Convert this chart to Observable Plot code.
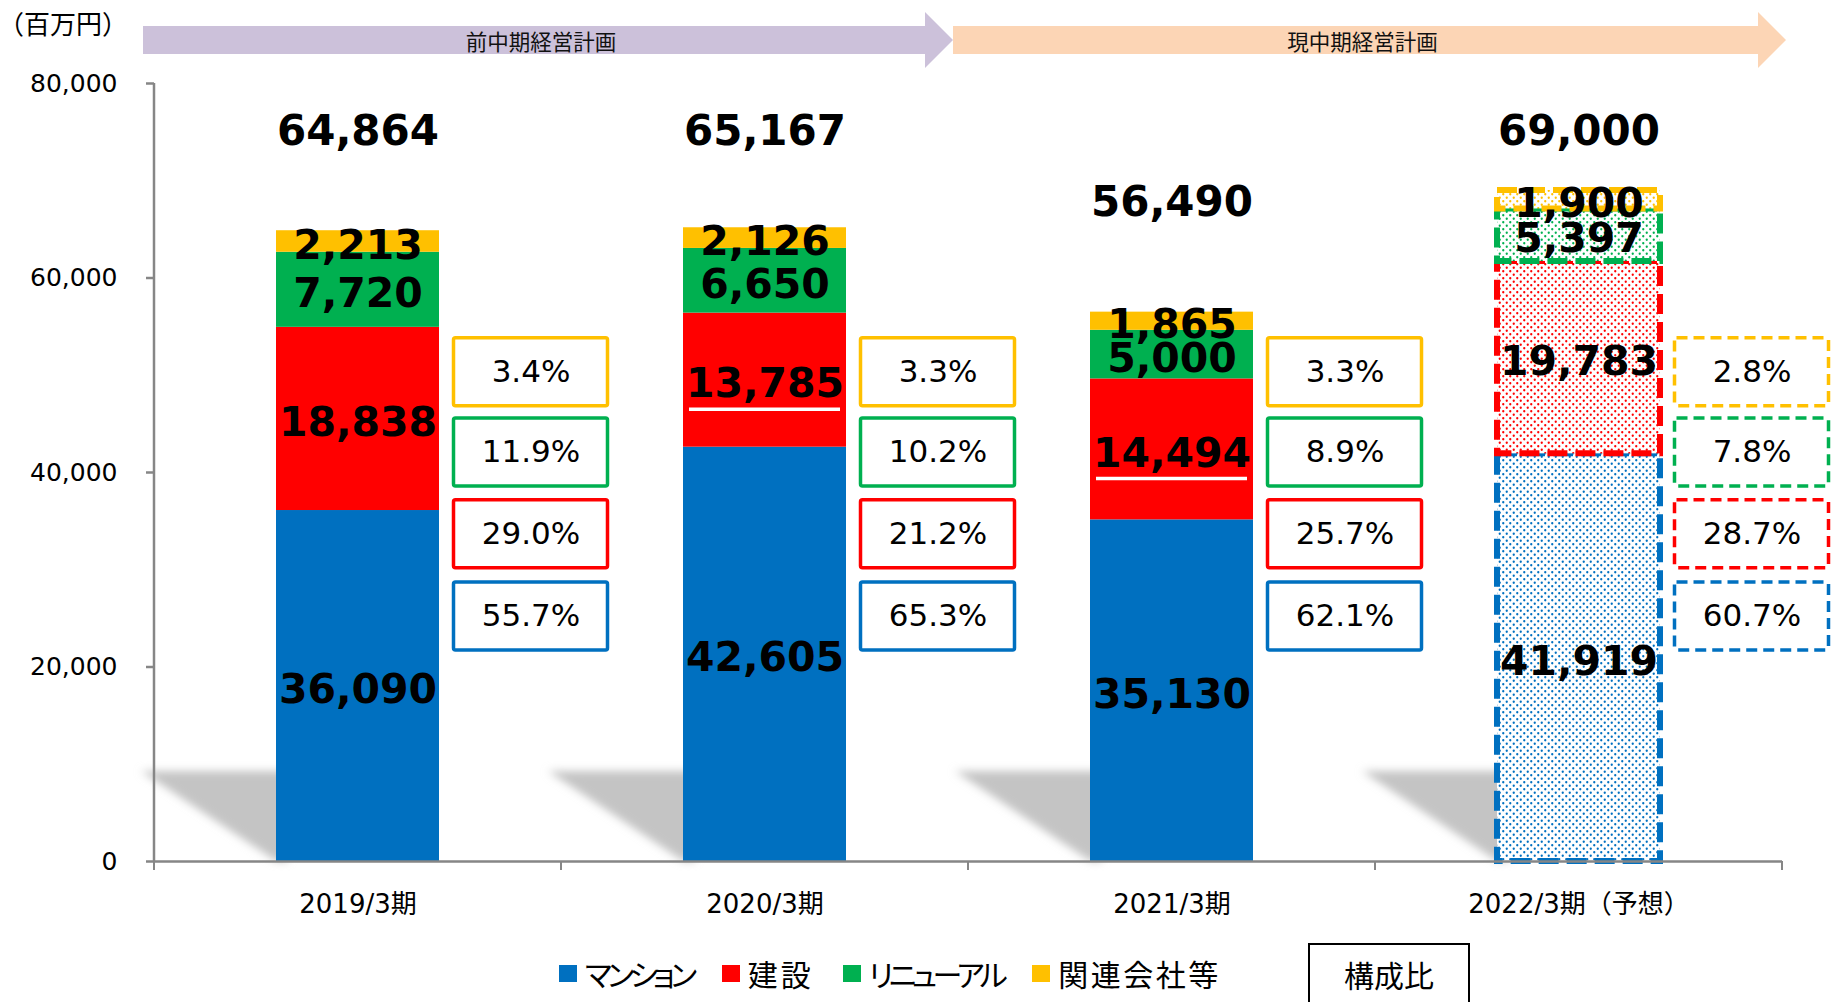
<!DOCTYPE html>
<html>
<head>
<meta charset="utf-8">
<script src="https://cdn.jsdelivr.net/npm/d3@7"></script>
<script src="https://cdn.jsdelivr.net/npm/@observablehq/plot@0.6"></script>
<style>
  html, body { margin: 0; padding: 0; background: #fff; overflow: hidden; }
  #wrap { position: relative; width: 1834px; height: 1002px; font-family: "DejaVu Sans", "Noto Sans CJK JP", sans-serif; }
  #legend { position: absolute; left: 559px; top: 953px; height: 40px; display: flex; align-items: center; font-family: "Noto Sans CJK JP", sans-serif; font-size: 30px; font-feature-settings: "palt"; color: #000; }
  #legend .item { display: flex; align-items: center; margin-right: 29px; }
  #legend .sw { width: 18px; height: 17px; margin-right: 8px; }
  #ratio { position: absolute; left: 1308px; top: 943px; width: 158px; height: 80px; border: 2px solid #000; box-sizing: content-box; font-family: "Noto Sans CJK JP", sans-serif; font-size: 30px; text-align: center; line-height: 40px; padding-top: 9px; }
</style>
</head>
<body>
<svg width="0" height="0" style="position:absolute">
  <defs id="defs"></defs>
</svg>
<div id="wrap"></div>
<script>
// ---------------- data ----------------
const categories = ["2019/3期", "2020/3期", "2021/3期", "2022/3期（予想）"];
const seriesNames = ["マンション", "建設", "リニューアル", "関連会社等"];
const seriesColors = ["#0070C0", "#FF0000", "#00B050", "#FFC000"];
const mansion = [36090, 42605, 35130, 41919];
const construction = [18838, 13785, 14494, 19783];
const renewal = [7720, 6650, 5000, 5397];
const affiliates = [2213, 2126, 1865, 1900];
const totals = [64864, 65167, 56490, 69000];
const shareMansion = [55.7, 65.3, 62.1, 60.7];
const shareConstruction = [29.0, 21.2, 25.7, 28.7];
const shareRenewal = [11.9, 10.2, 8.9, 7.8];
const shareAffiliates = [3.4, 3.3, 3.3, 2.8];
const isForecast = [false, false, false, true];
const underlinedLabels = ["2020/3期", "2021/3期"]; // 建設 labels shown underlined
const phaseLabels = ["前中期経営計画", "現中期経営計画"];
const phaseColors = ["#CCC1DA", "#FCD5B5"];
const yTicks = [0, 20000, 40000, 60000, 80000];
const unitLabel = "（百万円）";

// ---------------- derived rows ----------------
const seriesValues = [mansion, construction, renewal, affiliates];
const seriesShares = [shareMansion, shareConstruction, shareRenewal, shareAffiliates];

const segRows = [];
categories.forEach((cat, i) => {
  let acc = 0;
  seriesValues.forEach((vals, s) => {
    const v = vals[i];
    segRows.push({cat, s, value: v, y1: acc, y2: acc + v, mid: acc + v / 2,
      color: seriesColors[s], forecast: isForecast[i]});
    acc += v;
  });
});

const slotCenters = [50300, 42050, 33650, 25200]; // layout: box slots top -> bottom
const slotHalf = 3500;
const boxRows = [];
categories.forEach((cat, i) => {
  seriesShares.forEach((vals, s) => {
    boxRows.push({cat, s, share: vals[i], slot: 3 - s, color: seriesColors[s], forecast: isForecast[i]});
  });
});
const totalRows = categories.map((cat, i) => ({cat, total: totals[i]}));

// patterns for forecast bars
const defs = d3.select("#defs");
seriesColors.forEach((c, s) => {
  const p = defs.append("pattern").attr("id", "dots" + s)
    .attr("patternUnits", "userSpaceOnUse").attr("width", 7).attr("height", 7);
  p.append("rect").attr("width", 7).attr("height", 7).attr("fill", "#fff");
  p.append("circle").attr("cx", 1.75).attr("cy", 1.75).attr("r", 1.15).attr("fill", c);
  p.append("circle").attr("cx", 5.25).attr("cy", 5.25).attr("r", 1.15).attr("fill", c);
});
const f = defs.append("filter").attr("id", "shadowBlur")
  .attr("x", "-30%").attr("y", "-30%").attr("width", "160%").attr("height", "160%");
f.append("feGaussianBlur").attr("stdDeviation", 4);

const fmt = d3.format(",");
const barInset = 122;

const plot = Plot.plot({
  width: 1834,
  height: 940,
  marginLeft: 154,
  marginRight: 52,
  marginTop: 83,
  marginBottom: 79,
  x: {domain: categories, padding: 0, axis: null, label: null},
  y: {domain: [0, 80000], axis: null, label: null},
  color: {type: "identity"},
  style: {fontFamily: '"DejaVu Sans", "Noto Sans CJK JP", sans-serif', background: "transparent", overflow: "visible", color: "#000"},
  marks: [
    // actual bars
    Plot.barY(segRows.filter(d => !d.forecast), {
      x: "cat", y1: "y1", y2: "y2", fill: "color", insetLeft: barInset, insetRight: barInset
    }),
    // forecast bars (dotted fill, dashed border)
    Plot.barY(segRows.filter(d => d.forecast), {
      x: "cat", y1: "y1", y2: "y2", fill: d => `url(#dots${d.s})`, stroke: "color",
      strokeWidth: 6, strokeDasharray: "20,8", insetLeft: barInset, insetRight: barInset
    }),
    // x axis baseline
    Plot.ruleY([0], {stroke: "#868686", strokeWidth: 2.5}),
    // y axis
    Plot.axisY({ticks: yTicks, tickFormat: fmt, tickSize: 8, tickPadding: 29, fontSize: 25,
      stroke: "#868686", strokeWidth: 2.5, fill: "#000", label: null}),
    // x axis labels
    Plot.axisX({tickSize: 0, tickPadding: 33, fontSize: 26, fill: "#000", label: null}),
    // white underline under selected 建設 labels
    Plot.tickY(segRows.filter(d => d.s === 1 && underlinedLabels.includes(d.cat)), {
      x: "cat", y: "mid", dy: 29, stroke: "#fff", strokeWidth: 3.5, insetLeft: 128, insetRight: 128
    }),
    // segment value labels
    Plot.text(segRows, {x: "cat", y: "mid", dy: 4, text: d => fmt(d.value), fontSize: 41, fontWeight: "bold", fill: "#000"}),
    // total labels
    Plot.text(totalRows, {x: "cat", y: d => Math.min(d.total + 11500, 75300), dy: 2, text: d => fmt(d.total),
      fontSize: 42, fontWeight: "bold", fill: "#000"}),
    // share boxes
    Plot.barY(boxRows.filter(d => !d.forecast), {
      x: "cat", y1: d => slotCenters[d.slot] - slotHalf, y2: d => slotCenters[d.slot] + slotHalf,
      dx: 100, insetLeft: 199.5, insetRight: 53.5, fill: "#fff", stroke: "color", strokeWidth: 3.5, rx: 2
    }),
    Plot.barY(boxRows.filter(d => d.forecast), {
      x: "cat", y1: d => slotCenters[d.slot] - slotHalf, y2: d => slotCenters[d.slot] + slotHalf,
      dx: 100, insetLeft: 199.5, insetRight: 53.5, fill: "#fff", stroke: "color", strokeWidth: 3.5,
      strokeDasharray: "11,6", rx: 2
    }),
    Plot.text(boxRows, {x: "cat", y: d => slotCenters[d.slot], dx: 173, text: d => d.share.toFixed(1) + "%",
      fontSize: 31, fill: "#000"})
  ]
});

document.getElementById("wrap").appendChild(plot);

// ---------------- decorations derived from the plot's scales ----------------
const svg = d3.select(plot);
const xs = plot.scale("x");
const ys = plot.scale("y");
const bw = xs.bandwidth;
const X = c => xs.apply(c);
const y0 = ys.apply(0);
const yTop = ys.apply(80000);

// shadows behind the bars
const shadowG = svg.insert("g", "g").attr("filter", "url(#shadowBlur)");
categories.forEach(cat => {
  const left = X(cat) + barInset;
  const w = 135, h = 90;
  shadowG.append("path")
    .attr("d", `M${left - w},${y0 - h} L${left + 12},${y0 - h} L${left + 12},${y0} L${left},${y0} Z`)
    .attr("fill", "#c4c4c4");
});

// y axis line
svg.append("line").attr("x1", X(categories[0])).attr("x2", X(categories[0]))
  .attr("y1", y0).attr("y2", yTop).attr("stroke", "#868686").attr("stroke-width", 2.5);

// x axis band ticks
const edges = categories.map(c => X(c)).concat([X(categories[categories.length - 1]) + bw]);
edges.forEach(ex => {
  svg.append("line").attr("x1", ex).attr("x2", ex).attr("y1", y0).attr("y2", y0 + 9)
    .attr("stroke", "#868686").attr("stroke-width", 2);
});

// phase arrows
const arrowSpans = [
  [X(categories[0]) - 11, X(categories[2]) - 15],
  [X(categories[2]) - 15, X(categories[3]) + bw + 4]
];
const bt = 26, bb = 54, ht = 12, hb = 68, hl = 28;
arrowSpans.forEach(([L, T], i) => {
  const H = T - hl, cy = (bt + bb) / 2;
  svg.append("path")
    .attr("d", `M${L},${bt} L${H},${bt} L${H},${ht} L${T},${cy} L${H},${hb} L${H},${bb} L${L},${bb} Z`)
    .attr("fill", phaseColors[i]);
  svg.append("text").attr("x", (L + T) / 2 - 7).attr("y", cy)
    .attr("text-anchor", "middle").attr("dominant-baseline", "central")
    .attr("font-family", '"Noto Sans CJK JP", sans-serif').attr("font-size", 21.5).attr("fill", "#111")
    .text(phaseLabels[i]);
});

// unit label
svg.append("text").attr("x", -2).attr("y", 22).attr("dominant-baseline", "central")
  .attr("text-anchor", "start")
  .attr("font-family", '"Noto Sans CJK JP", sans-serif').attr("font-size", 26).attr("fill", "#000")
  .text(unitLabel);

// ---------------- legend (HTML, below the SVG) ----------------
const legend = d3.select("#wrap").append("div").attr("id", "legend");
seriesNames.forEach((name, s) => {
  const it = legend.append("div").attr("class", "item");
  it.append("div").attr("class", "sw").style("background", seriesColors[s]);
  const isKana = /[\u30A0-\u30FF]/.test(name);
  it.append("span").text(name)
    .style("letter-spacing", isKana ? "-4.5px" : (name.length === 2 ? "3px" : "2.5px"));
});
d3.select("#wrap").append("div").attr("id", "ratio").text("構成比");
</script>
</body>
</html>
